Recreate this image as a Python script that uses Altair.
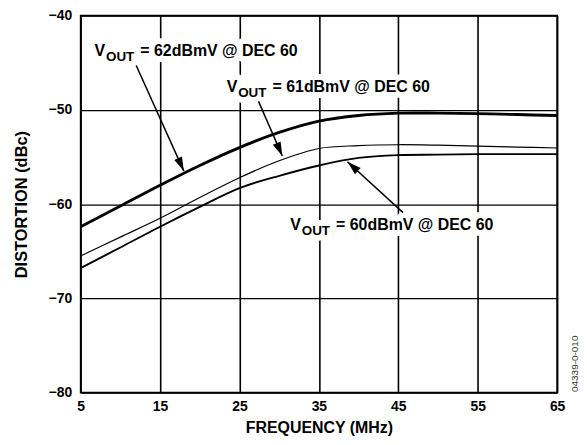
import math
import altair as alt
import pandas as pd

# ---- data ----
freq = [5, 10, 15, 20, 25, 30, 35, 40, 45, 50, 55, 60, 65]
dist_62 = [-62.4, -60.2, -58.0, -55.9, -54.0, -52.4, -51.2, -50.6, -50.35, -50.35, -50.4, -50.5, -50.6]
dist_61 = [-65.5, -63.5, -61.5, -59.3, -57.2, -55.4, -54.1, -53.8, -53.7, -53.75, -53.85, -53.95, -54.05]
dist_60 = [-66.8, -64.6, -62.4, -60.3, -58.3, -57.0, -55.9, -55.1, -54.8, -54.75, -54.7, -54.7, -54.7]

series_names = ["62dBmV", "61dBmV", "60dBmV"]
series_width = [2.9, 1.2, 1.9]

x_ticks = [5, 15, 25, 35, 45, 55, 65]
y_ticks = [-80, -70, -60, -50, -40]

# annotation labels (anchor of "V" in data units)
lab_f = [6.75, 23.4, 31.4]
lab_d = [-44.3, -48.1, -62.8]
lab_rest = ["= 62dBmV @ DEC 60", "= 61dBmV @ DEC 60", "= 60dBmV @ DEC 60"]

# arrows: tail -> head, data units
arr_tail_f = [12.0, 27.4, 45.6]
arr_tail_d = [-45.3, -49.1, -60.9]
arr_head_f = [18.0, 30.4, 38.6]
arr_head_d = [-56.5, -54.9, -55.5]

W, H = 479, 379
XD, YD = [5, 65], [-80, -40]
FONT = "Liberation Sans"

rows = []
for name, w, vals in zip(series_names, series_width, [dist_62, dist_61, dist_60]):
    for f, d in zip(freq, vals):
        rows.append({"series": name, "freq": f, "dist": d, "w": w})
df = pd.DataFrame(rows)

sx = W / (XD[1] - XD[0])
sy = H / (YD[1] - YD[0])
arr_rows = []
for tf, td, hf, hd in zip(arr_tail_f, arr_tail_d, arr_head_f, arr_head_d):
    dx = (hf - tf) * sx
    dy = -(hd - td) * sy
    ang = math.degrees(math.atan2(dx, -dy)) % 360
    arr_rows.append({"tf": tf, "td": td, "hf": hf, "hd": hd, "ang": ang})
adf = pd.DataFrame(arr_rows)

ldf = pd.DataFrame({"f": lab_f, "d": lab_d, "rest": lab_rest, "v": ["V"] * 3, "sub": ["OUT"] * 3})

xscale = alt.Scale(domain=XD, nice=False, zero=False)
yscale = alt.Scale(domain=YD, nice=False, zero=False)

xaxis = alt.Axis(values=x_ticks, grid=True, gridColor="black", gridWidth=1.6, gridOpacity=1,
                 ticks=False, domain=False, labelFont=FONT, labelFontWeight="bold", labelFontSize=14,
                 labelColor="black", labelPadding=7, labelFlush=False, title="FREQUENCY (MHz)",
                 titleFont=FONT, titleFontWeight="bold", titleFontSize=16, titleColor="black",
                 titlePadding=6)
yaxis = alt.Axis(values=y_ticks, grid=True, gridColor="black", gridWidth=1.2, gridOpacity=1,
                 ticks=False, domain=False, labelFont=FONT, labelFontWeight="bold", labelFontSize=14,
                 labelColor="black", labelPadding=9, labelFlush=False, format="d",
                 title="DISTORTION (dBc)", titleFont=FONT, titleFontWeight="bold", titleFontSize=16.5,
                 titleColor="black", titlePadding=19)

lines = alt.Chart(df).mark_line(interpolate="catmull-rom", color="black").encode(
    x=alt.X("freq:Q", scale=xscale, axis=xaxis),
    y=alt.Y("dist:Q", scale=yscale, axis=yaxis),
    detail="series:N",
    strokeWidth=alt.StrokeWidth("w:Q", scale=None, legend=None),
)

def text_layer(field, dx, dy, size, halo):
    kw = dict(align="left", baseline="alphabetic", font=FONT, fontWeight="bold",
              fontSize=size, dx=dx, dy=dy)
    if halo:
        mk = alt.Chart(ldf).mark_text(color="white", stroke="white", strokeWidth=12,
                                      strokeJoin="round", **kw)
    else:
        mk = alt.Chart(ldf).mark_text(color="black", **kw)
    return mk.encode(x=alt.X("f:Q", scale=xscale), y=alt.Y("d:Q", scale=yscale),
                     text=f"{field}:N")

parts = [("v", 0, 0, 16), ("sub", 11.5, 5, 13.5), ("rest", 46, 0, 16)]
halos = [text_layer(p, dx, dy, s, True) for p, dx, dy, s in parts]
texts = [text_layer(p, dx, dy, s, False) for p, dx, dy, s in parts]

shafts = alt.Chart(adf).mark_rule(color="black", strokeWidth=1.5).encode(
    x=alt.X("tf:Q", scale=xscale), y=alt.Y("td:Q", scale=yscale),
    x2="hf:Q", y2="hd:Q",
)
heads = alt.Chart(adf).mark_point(shape="M0,0L0.6,2L-0.6,2Z", filled=True, color="black",
                                  opacity=1, size=200, strokeWidth=0).encode(
    x=alt.X("hf:Q", scale=xscale), y=alt.Y("hd:Q", scale=yscale),
    angle=alt.Angle("ang:Q", scale=None),
)

stamp = alt.Chart(pd.DataFrame({"t": ["04339-0-010"]})).mark_text(
    angle=270, font=FONT, fontSize=10, color="#333333", align="center", baseline="middle"
).encode(x=alt.value(497), y=alt.value(350), text="t:N")

chart = alt.layer(*halos, lines, shafts, heads, *texts, stamp).properties(
    width=W, height=H,
    autosize=alt.AutoSizeParams(type="none"),
    padding={"left": 73, "top": 6.5, "right": 22, "bottom": 48},
).configure_view(stroke="black", strokeWidth=1.6)

chart.save("out.html", embed_options={"renderer": "svg", "actions": False})
